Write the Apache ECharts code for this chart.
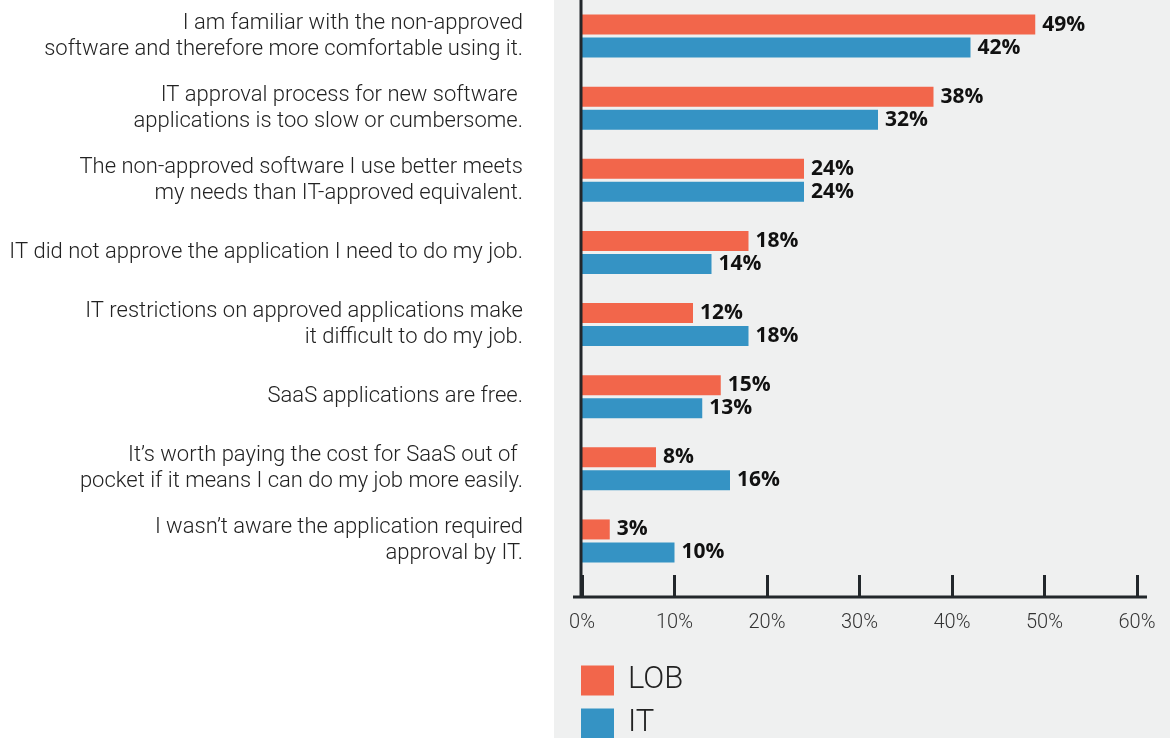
<!DOCTYPE html>
<html>
<head>
<meta charset="utf-8">
<script src="https://cdn.jsdelivr.net/npm/echarts@6/dist/echarts.min.js"></script>
<style>
  html, body { margin: 0; padding: 0; background: #fff; }
  #chart { width: 1170px; height: 738px; }
</style>
</head>
<body>
<div id="chart"></div>
<script>
// survey reasons, top to bottom
var categories = [
  'I am familiar with the non-approved\nsoftware and therefore more comfortable using it.',
  'IT approval process for new software \napplications is too slow or cumbersome.',
  'The non-approved software I use better meets\nmy needs than IT-approved equivalent.',
  'IT did not approve the application I need to do my job.',
  'IT restrictions on approved applications make\nit difficult to do my job.',
  'SaaS applications are free.',
  'It\u2019s worth paying the cost for SaaS out of \npocket if it means I can do my job more easily.',
  'I wasn\u2019t aware the application required\napproval by IT.'
];
var lobValues = [49, 38, 24, 18, 12, 15, 8, 3];
var itValues = [42, 32, 24, 14, 18, 13, 16, 10];
var xTicks = [0, 10, 20, 30, 40, 50, 60];

var dark = '#22272b';
var font = 'Roboto';

var chart = echarts.init(document.getElementById('chart'));

var valueLabel = {
  show: true,
  position: 'right',
  distance: 7,
  color: '#111',
  fontFamily: 'Open Sans',
  fontWeight: 'bold',
  fontSize: 21,
  formatter: function (p) { return p.value + '%'; }
};

var legendText = { fontFamily: font, fontWeight: 300, fontSize: 31, color: '#222', padding: [0, 0, 0, 9] };

var option = {
  animation: false,
  backgroundColor: '#ffffff',
  graphic: [
    {
      type: 'rect',
      z: -10,
      shape: { x: 554, y: 0, width: 616, height: 738 },
      style: { fill: '#eff0f0' }
    },
    {
      type: 'line',
      z: 10,
      shape: { x1: 581, y1: 0, x2: 581, y2: 598 },
      style: { stroke: dark, lineWidth: 3 }
    },
    {
      type: 'line',
      z: 10,
      shape: { x1: 573, y1: 597, x2: 1147, y2: 597 },
      style: { stroke: dark, lineWidth: 3 }
    }
  ],
  legend: [
    {
      left: 581,
      top: 665,
      padding: 0,
      itemWidth: 33,
      itemHeight: 30,
      icon: 'rect',
      textStyle: legendText,
      data: ['LOB']
    },
    {
      left: 581,
      top: 708,
      padding: 0,
      itemWidth: 33,
      itemHeight: 30,
      icon: 'rect',
      textStyle: legendText,
      data: ['IT']
    }
  ],
  grid: {
    left: 582,
    right: 33,
    top: 0,
    bottom: 161,
    containLabel: false
  },
  xAxis: {
    type: 'value',
    min: 0,
    max: 60,
    interval: 10,
    offset: 20,
    splitLine: { show: false },
    axisLine: { show: false },
    axisTick: { show: true, inside: true, length: 22, lineStyle: { color: dark, width: 3 } },
    axisLabel: {
      margin: 16,
      fontFamily: font,
      fontWeight: 300,
      fontSize: 20,
      color: '#333',
      formatter: function (v) { return xTicks.indexOf(v) >= 0 ? v + '%' : ''; }
    }
  },
  yAxis: {
    type: 'category',
    inverse: true,
    data: categories,
    axisLine: { show: false },
    axisTick: { show: false },
    axisLabel: {
      margin: 59,
      align: 'right',
      fontFamily: font,
      fontWeight: 300,
      fontSize: 22,
      lineHeight: 26,
      color: '#222'
    }
  },
  series: [
    {
      name: 'LOB',
      type: 'bar',
      data: lobValues,
      barWidth: 20,
      barGap: '15%',
      itemStyle: { color: '#f2664b' },
      label: valueLabel
    },
    {
      name: 'IT',
      type: 'bar',
      data: itValues,
      barWidth: 20,
      itemStyle: { color: '#3593c4' },
      label: valueLabel
    }
  ]
};

chart.setOption(option);
</script>
</body>
</html>
